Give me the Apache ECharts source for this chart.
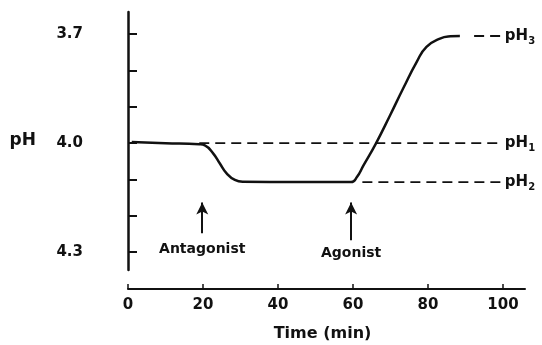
<!DOCTYPE html>
<html>
<head>
<meta charset="utf-8">
<script src="https://cdn.jsdelivr.net/npm/echarts@6/dist/echarts.min.js"></script>
<style>html,body{margin:0;padding:0;background:#fff}#c{width:542px;height:345px}</style>
</head>
<body>
<div id="c"></div>
<script>
// ---- data ----
const timeMin = [1, 10, 19, 20.5, 22.7, 24.5, 26.3, 28.5, 30.7, 45, 59.5, 61, 62.8, 66.1, 69.9, 73.4, 77, 79.6, 83.2, 86, 88.5];
const phValues = [3.997, 4.0, 4.003, 4.006, 4.028, 4.056, 4.083, 4.101, 4.106, 4.107, 4.107, 4.094, 4.061, 4.001, 3.923, 3.849, 3.776, 3.735, 3.712, 3.706, 3.705];

const refNames = ['1', '2', '3'];
const refLevels = [4.0, 4.107, 3.705];
const refStart = [19, 62.5, 92.3];
const refEnd = [99.7, 99.7, 99.7];

const arrowNames = ['Antagonist', 'Agonist'];
const arrowTimes = [19.8, 59.5];
const arrowFrom = [4.248, 4.267];
const arrowTo = [4.163, 4.163];
const arrowLabelPh = [4.291, 4.302];

const yTicks = [3.7, 3.8, 3.9, 4.0, 4.1, 4.2, 4.3];
const yLabels = [3.7, 4.0, 4.3];
const xTicks = [0, 20, 40, 60, 80, 100];

const FONT = 'DejaVu Sans';
const INK = '#111';

const curve = timeMin.map((t, i) => [t, phValues[i]]);

const refSeries = refLevels.map((lv, i) => ({
  type: 'line', xAxisIndex: 0, yAxisIndex: 0,
  data: [[refStart[i], lv], [refEnd[i], lv]],
  symbol: 'none', silent: true,
  lineStyle: { color: INK, width: 1.8, type: [10, 6] },
  endLabel: {
    show: true, distance: 3,
    formatter: () => '{p|pH}{s|' + refNames[i] + '}',
    rich: {
      p: { fontFamily: FONT, fontSize: 15, fontWeight: 'bold', color: INK, lineHeight: 20 },
      s: { fontFamily: FONT, fontSize: 10, fontWeight: 'bold', color: INK, lineHeight: 10, verticalAlign: 'bottom' }
    }
  }
}));

const option = {
  animation: false,
  backgroundColor: '#fff',
  grid: [
    { left: 92, top: 12, width: 433, height: 258, outerBoundsMode: 'none', containLabel: false },
    { left: 128, top: 12, width: 397, height: 277, outerBoundsMode: 'none', containLabel: false }
  ],
  xAxis: [
    { gridIndex: 0, type: 'value', min: -9.6, max: 105.87, show: false },
    {
      gridIndex: 1, type: 'value', min: 0, max: 105.87,
      splitLine: { show: false },
      axisLine: { show: true, lineStyle: { color: INK, width: 2 } },
      axisTick: { show: true, inside: true, length: 5, customValues: xTicks, lineStyle: { color: INK, width: 1.5 } },
      axisLabel: { customValues: xTicks, margin: 9, fontFamily: FONT, fontSize: 15, fontWeight: 'bold', color: INK },
      name: 'Time (min)', nameLocation: 'middle', nameGap: 37,
      nameTextStyle: { fontFamily: FONT, fontSize: 16, fontWeight: 'bold', color: INK, padding: [0, 8, 0, 0] }
    }
  ],
  yAxis: [
    {
      gridIndex: 0, type: 'value', inverse: true, min: 3.639, max: 4.349,
      splitLine: { show: false },
      axisLine: { show: true, lineStyle: { color: INK, width: 2.5 } },
      axisTick: { show: true, inside: true, length: 9, customValues: yTicks, lineStyle: { color: INK, width: 2 } },
      axisLabel: { customValues: yLabels, margin: 9, formatter: v => v.toFixed(1), fontFamily: FONT, fontSize: 15, fontWeight: 'bold', color: INK },
      name: 'pH', nameLocation: 'middle', nameGap: 56, nameRotate: 0,
      nameTextStyle: { fontFamily: FONT, fontSize: 17, fontWeight: 'bold', color: INK }
    },
    { gridIndex: 1, type: 'value', min: 0, max: 1, show: false }
  ],
  series: [
    {
      type: 'line', xAxisIndex: 0, yAxisIndex: 0, data: curve,
      symbol: 'none', smooth: 0.5,
      lineStyle: { color: INK, width: 2.5 }
    },
    ...refSeries,
    {
      type: 'line', xAxisIndex: 0, yAxisIndex: 0, data: [], symbol: 'none',
      markLine: {
        silent: true, animation: false,
        symbol: ['none', 'arrow'], symbolSize: [9, 12],
        label: { show: false },
        lineStyle: { color: INK, width: 2, type: 'solid' },
        data: arrowTimes.map((t, i) => [{ coord: [t, arrowFrom[i]] }, { coord: [t, arrowTo[i]] }])
      }
    },
    {
      type: 'scatter', xAxisIndex: 0, yAxisIndex: 0, symbolSize: 0, silent: true,
      itemStyle: { opacity: 1 },
      data: arrowTimes.map((t, i) => ({ name: arrowNames[i], value: [t, arrowLabelPh[i]] })),
      label: { show: true, position: 'inside', formatter: p => p.name, fontFamily: FONT, fontSize: 14, fontWeight: 'bold', color: INK, opacity: 1 }
    }
  ]
};
echarts.init(document.getElementById('c')).setOption(option);
</script>
</body>
</html>
